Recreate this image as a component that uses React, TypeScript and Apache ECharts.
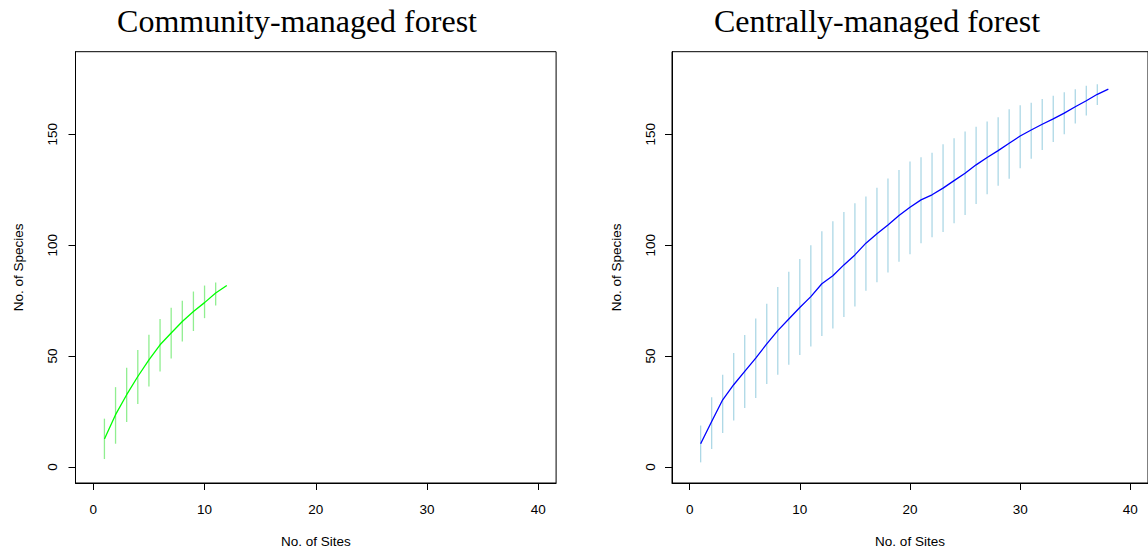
import React, { useEffect, useRef } from "react";
import * as echarts from "echarts";

// Community-managed forest
const communitySites = [1, 2, 3, 4, 5, 6, 7, 8, 9, 10, 11, 12];
const communityRichness = [12.6, 23.6, 32.6, 40.8, 48.3, 55.1, 60.4, 65.6, 70.1, 74.1, 78.4, 81.8];
const communityUpper = [21.8, 36.0, 44.7, 52.8, 59.6, 66.7, 71.8, 74.9, 79.1, 81.8, 83.2];
const communityLower = [3.6, 10.5, 20.3, 28.4, 36.3, 43.1, 48.9, 56.6, 61.3, 67.1, 72.8];

// Centrally-managed forest
const centralSites = [
  1, 2, 3, 4, 5, 6, 7, 8, 9, 10, 11, 12, 13, 14, 15, 16, 17, 18, 19, 20,
  21, 22, 23, 24, 25, 26, 27, 28, 29, 30, 31, 32, 33, 34, 35, 36, 37, 38,
];
const centralRichness = [
  10.5, 20.5, 30.3, 37.1, 43.1, 49.1, 55.5, 61.5, 66.7, 71.9, 76.8, 82.6, 86.2, 91.1, 95.6, 100.9,
  105.1, 109.1, 113.4, 117.1, 120.4, 122.7, 125.7, 129.1, 132.4, 136.2, 139.5, 142.6, 145.9, 149.2,
  151.9, 154.5, 156.9, 159.5, 162.4, 165.1, 168.0, 170.3,
];
const centralUpper = [
  18.7, 31.5, 41.6, 51.4, 59.5, 66.9, 73.6, 81.1, 88.0, 93.8, 100.0, 106.3, 110.8, 114.9, 118.9, 121.9,
  125.9, 130.0, 133.9, 137.7, 139.6, 141.7, 145.5, 148.2, 151.2, 153.4, 155.7, 157.7, 161.3, 163.1,
  164.2, 165.9, 167.4, 168.9, 170.3, 171.8, 172.5,
];
const centralLower = [
  2.1, 8.1, 15.3, 21.0, 26.6, 31.1, 37.4, 41.6, 46.1, 50.5, 54.3, 59.1, 62.4, 67.6, 72.3, 79.5,
  83.3, 87.7, 92.5, 95.9, 100.9, 103.6, 105.9, 109.9, 113.6, 118.6, 123.0, 126.8, 129.9, 134.7,
  139.0, 142.9, 146.5, 150.0, 154.8, 158.4, 163.2,
];

const xTicks = [0, 10, 20, 30, 40];
const yTicks = [0, 50, 100, 150];
const titles = ["Community-managed forest", "Centrally-managed forest"];
const xName = "No. of Sites";
const yName = "No. of Species";

const SANS = "'Liberation Sans', Arial, Helvetica, sans-serif";
const SERIF = "'Liberation Serif', 'Times New Roman', serif";

function makeXAxis(gridIndex: number) {
  return {
    type: "value",
    gridIndex,
    min: -1.6,
    max: 41.6,
    name: xName,
    nameLocation: "middle",
    nameGap: 51,
    nameTextStyle: { fontFamily: SANS, fontSize: 13.5, color: "#000" },
    axisLine: { show: true, onZero: false, lineStyle: { color: "#000", width: 1 } },
    axisTick: { show: true, inside: false, length: 7, customValues: xTicks, lineStyle: { color: "#000" } },
    axisLabel: { customValues: xTicks, margin: 19, fontFamily: SANS, fontSize: 13.5, color: "#000" },
    splitLine: { show: false },
  };
}

function makeYAxis(gridIndex: number, labelMargin: number, nameGap: number) {
  return {
    type: "value",
    gridIndex,
    min: -7.2,
    max: 187.2,
    name: yName,
    nameLocation: "middle",
    nameGap,
    nameRotate: 90,
    nameTextStyle: { fontFamily: SANS, fontSize: 13.5, color: "#000" },
    axisLine: { show: true, onZero: false, lineStyle: { color: "#000", width: 1 } },
    axisTick: { show: true, inside: false, length: 7, customValues: yTicks, lineStyle: { color: "#000" } },
    axisLabel: {
      customValues: yTicks,
      rotate: 90,
      align: "center",
      verticalAlign: "middle",
      margin: labelMargin,
      fontFamily: SANS,
      fontSize: 13.5,
      color: "#000",
    },
    splitLine: { show: false },
  };
}

function errorBars(sites: number[], lower: number[], upper: number[], color: string, idx: number) {
  const data = lower.map((lo, i) => [sites[i], lo, upper[i]]);
  return {
    type: "custom",
    xAxisIndex: idx,
    yAxisIndex: idx,
    data,
    silent: true,
    renderItem: (_params: any, api: any) => {
      const x = api.value(0);
      const p1 = api.coord([x, api.value(1)]);
      const p2 = api.coord([x, api.value(2)]);
      return {
        type: "line",
        shape: { x1: p1[0], y1: p1[1], x2: p2[0], y2: p2[1] },
        style: { stroke: color, lineWidth: 1.3 },
      };
    },
    z: 1,
  };
}

export default function App() {
  const ref = useRef<HTMLDivElement>(null);

  useEffect(() => {
    if (!ref.current) return;
    const chart = echarts.init(ref.current, undefined, { renderer: "svg" });
    chart.setOption({
      animation: false,
      backgroundColor: "#fff",
      grid: [
        { left: 75.5, top: 51.7, width: 480.6, height: 431.6, show: true, borderColor: "#000", borderWidth: 1, backgroundColor: "transparent" },
        { left: 672, top: 51.7, width: 479.6, height: 431.6, show: true, borderColor: "#000", borderWidth: 1, backgroundColor: "transparent" },
      ],
      xAxis: [makeXAxis(0), makeXAxis(1)],
      yAxis: [makeYAxis(0, 23.5, 50), makeYAxis(1, 21.5, 49)],
      graphic: [
        {
          type: "text",
          x: 297,
          y: 21,
          style: { text: titles[0], font: `32px ${SERIF}`, fill: "#000", textAlign: "center", textVerticalAlign: "middle" },
        },
        {
          type: "text",
          x: 877,
          y: 21,
          style: { text: titles[1], font: `32px ${SERIF}`, fill: "#000", textAlign: "center", textVerticalAlign: "middle" },
        },
      ],
      series: [
        errorBars(communitySites, communityLower, communityUpper, "#90EE90", 0),
        {
          type: "line",
          xAxisIndex: 0,
          yAxisIndex: 0,
          data: communitySites.map((s, i) => [s, communityRichness[i]]),
          symbol: "none",
          lineStyle: { color: "#00FF00", width: 1.3 },
          z: 2,
        },
        errorBars(centralSites, centralLower, centralUpper, "#ADD8E6", 1),
        {
          type: "line",
          xAxisIndex: 1,
          yAxisIndex: 1,
          data: centralSites.map((s, i) => [s, centralRichness[i]]),
          symbol: "none",
          lineStyle: { color: "#0000FF", width: 1.3 },
          z: 2,
        },
      ],
    });
    return () => chart.dispose();
  }, []);

  return (
    <div
      ref={ref}
      style={{ position: "absolute", left: 0, top: 0, width: 1148, height: 553, background: "#fff" }}
    />
  );
}
